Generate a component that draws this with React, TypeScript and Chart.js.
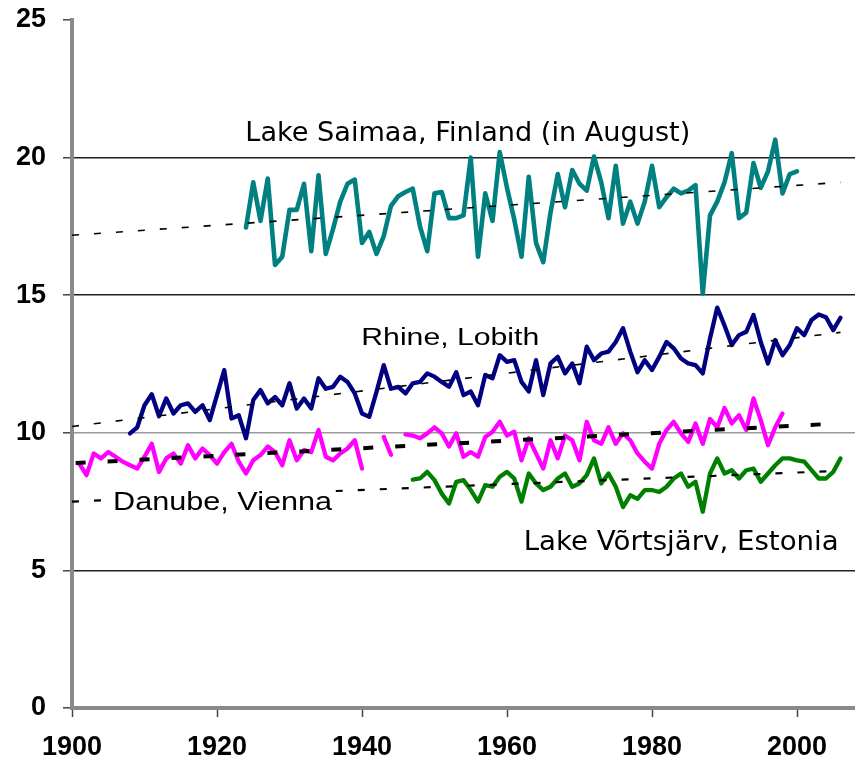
import React, { useEffect, useRef } from 'react';
import { Chart, registerables } from 'chart.js';

Chart.register(...registerables);

// ---------- data ----------
const saimaaStart = 1924;
const saimaaValues = [
  17.46, 19.1, 17.7, 19.24, 16.1, 16.4, 18.1, 18.1, 19.05, 16.6,
  19.36, 16.5, 17.4, 18.4, 19.05, 19.2, 16.9, 17.3, 16.5, 17.15,
  18.25, 18.6, 18.75, 18.87, 17.5, 16.6, 18.7, 18.75, 17.8, 17.8,
  17.9, 20.0, 16.4, 18.7, 17.7, 20.2, 18.9, 17.75, 16.4, 19.3,
  16.9, 16.2, 18.0, 19.4, 18.2, 19.55, 19.05, 18.8, 20.04, 19.1,
  17.8, 19.7, 17.6, 18.4, 17.6, 18.4, 19.7, 18.2, 18.56, 18.87,
  18.7, 18.8, 19.0, 15.06, 17.9, 18.4, 19.1, 20.16, 17.8, 18.0,
  19.8, 18.9, 19.5, 20.65, 18.7, 19.4, 19.5,
];

const rhineStart = 1908;
const rhineValues = [
  9.98, 10.2, 11.0, 11.4, 10.6, 11.25, 10.7, 11.0, 11.07, 10.76,
  11.0, 10.46, 11.37, 12.28, 10.52, 10.64, 9.8, 11.19, 11.55, 11.07,
  11.3, 11.0, 11.8, 10.88, 11.25, 10.88, 11.98, 11.6, 11.67, 12.04,
  11.85, 11.43, 10.7, 10.58, 11.49, 12.46, 11.6, 11.67, 11.43, 11.8,
  11.85, 12.16, 12.04, 11.85, 11.67, 12.2, 11.37, 11.5, 11.0, 12.1,
  11.98, 12.82, 12.58, 12.64, 11.85, 11.5, 12.64, 11.37, 12.52, 12.76,
  12.16, 12.52, 11.8, 13.13, 12.64, 12.88, 12.95, 13.3, 13.8, 12.95,
  12.2, 12.64, 12.28, 12.76, 13.3, 13.07, 12.7, 12.52, 12.46, 12.16,
  13.43, 14.55, 13.9, 13.19, 13.55, 13.67, 14.28, 13.3, 12.52, 13.37,
  12.82, 13.19, 13.8, 13.55, 14.1, 14.3, 14.2, 13.73, 14.18,
];

const danubeStart = 1901;
const danubeValues: (number | null)[] = [
  8.88, 8.46, 9.25, 9.07, 9.3, 9.13, 8.95, 8.82, 8.7, 9.13,
  9.6, 8.58, 9.07, 9.25, 8.88, 9.55, 9.07, 9.43, 9.19, 8.88,
  9.3, 9.6, 8.95, 8.52, 9.0, 9.19, 9.5, 9.3, 8.82, 9.73,
  9.0, 9.37, 9.3, 10.1, 9.13, 9.0, 9.25, 9.43, 9.73, 8.7,
  null, null, 9.85, 9.2, null,
  9.94, 9.9, 9.8, 9.98, 10.2, 9.98, 9.5, 9.98, 9.13, 9.3,
  9.13, 9.85, 10.04, 10.4, 9.9, 10.04, 9.0, 9.8, 9.25, 8.7,
  9.73, 9.07, 9.9, 9.73, 9.0, 10.4, 9.73, 9.6, 10.2, 9.6,
  9.98, 9.73, 9.25, 8.95, 8.7, 9.6, 10.1, 10.4, 9.98, 9.67,
  10.34, 9.6, 10.5, 10.2, 10.9, 10.34, 10.64, 10.1, 11.25, 10.46,
  9.55, 10.2, 10.7,
];

const vortsStart = 1947;
const vortsValues = [
  8.3, 8.34, 8.58, 8.28, 7.79, 7.43, 8.22, 8.28, 7.92, 7.5,
  8.1, 8.04, 8.4, 8.58, 8.34, 7.5, 8.52, 8.16, 7.92, 8.04,
  8.34, 8.52, 8.04, 8.16, 8.46, 9.07, 8.16, 8.52, 8.04, 7.3,
  7.73, 7.6, 7.92, 7.92, 7.85, 8.04, 8.34, 8.52, 8.04, 8.22,
  7.13, 8.52, 9.07, 8.52, 8.64, 8.34, 8.64, 8.7, 8.22, 8.52,
  8.82, 9.07, 9.07, 9.0, 8.95, 8.64, 8.34, 8.34, 8.58, 9.07,
];

// trend lines: [start year, end year], [start value, end value]
const saimaaTrendYears = [1900, 2006];
const saimaaTrendValues = [17.18, 19.1];
const rhineTrendYears = [1900, 2006];
const rhineTrendValues = [10.23, 13.65];
const danubeTrendYears = [1900.5, 2005];
const danubeTrendValues = [8.9, 10.33];
const vortsTrendYears = [1900, 2006];
const vortsTrendValues = [7.5, 8.62];

const xTickStep = 20;
const yTickStep = 5;

const labelTexts = [
  'Lake Saimaa, Finland (in August)',
  'Rhine, Lobith',
  'Danube, Vienna',
  'Lake Võrtsjärv, Estonia',
];

// label layout (anchor in data coords, sizes in px)
const labelLayout = [
  { year: 1923.9, value: 20.62, cap: 19, width: 445, font: 'DejaVu Sans', bg: false },
  { year: 1939.9, value: 13.2, cap: 17, width: 178, font: 'Liberation Sans', bg: false },
  { year: 1905.66, value: 7.2, cap: 18, width: 219, font: 'Liberation Sans', bg: true },
  { year: 1962.3, value: 5.75, cap: 19, width: 315, font: 'DejaVu Sans', bg: false },
];

const series = (start: number, vals: (number | null)[]) =>
  vals.map((v, i) => ({ x: start + i, y: v }));
const trend = (yrs: number[], vals: number[]) =>
  yrs.map((yr, i) => ({ x: yr, y: vals[i] }));

const labelPlugin = {
  id: 'textLabels',
  afterDatasetsDraw(chart: any) {
    const { ctx } = chart;
    const xs = chart.scales.x;
    const ys = chart.scales.y;
    labelLayout.forEach((l, i) => {
      const px = xs.getPixelForValue(l.year);
      const py = ys.getPixelForValue(l.value);
      const size = l.cap / 0.72;
      ctx.save();
      ctx.font = `${size}px "${l.font}"`;
      const w = ctx.measureText(labelTexts[i]).width;
      const sx = l.width / w;
      if (l.bg) {
        ctx.fillStyle = '#ffffff';
        ctx.fillRect(px - 3, py - l.cap - 3, l.width + 6, l.cap + 6);
      }
      ctx.translate(px, py);
      ctx.scale(sx, 1);
      ctx.fillStyle = '#000000';
      ctx.textBaseline = 'alphabetic';
      ctx.textAlign = 'left';
      ctx.fillText(labelTexts[i], 0, 0);
      ctx.restore();
    });
  },
};

export default function App() {
  const ref = useRef<HTMLCanvasElement | null>(null);

  useEffect(() => {
    if (!ref.current) return;
    const trendBase = {
      borderColor: '#000000',
      pointRadius: 0,
      fill: false,
      tension: 0,
    };
    const lineBase = {
      pointRadius: 0,
      fill: false,
      tension: 0,
      borderJoinStyle: 'round' as const,
      borderCapStyle: 'round' as const,
      spanGaps: false,
    };
    const chart = new Chart(ref.current, {
      type: 'line',
      data: {
        datasets: [
          { ...trendBase, label: 'Saimaa trend', data: trend(saimaaTrendYears, saimaaTrendValues), borderWidth: 1.6, borderDash: [7, 15] },
          { ...trendBase, label: 'Rhine trend', data: trend(rhineTrendYears, rhineTrendValues), borderWidth: 1.6, borderDash: [7, 15] },
          { ...trendBase, label: 'Danube trend', data: trend(danubeTrendYears, danubeTrendValues), borderWidth: 4, borderDash: [10, 22] },
          { ...trendBase, label: 'Vortsjarv trend', data: trend(vortsTrendYears, vortsTrendValues), borderWidth: 2.2, borderDash: [7, 15] },
          { ...lineBase, label: 'Lake Saimaa', data: series(saimaaStart, saimaaValues), borderColor: '#008080', borderWidth: 4.6 },
          { ...lineBase, label: 'Rhine', data: series(rhineStart, rhineValues), borderColor: '#000080', borderWidth: 4.3 },
          { ...lineBase, label: 'Danube', data: series(danubeStart, danubeValues), borderColor: '#ff00ff', borderWidth: 4.3 },
          { ...lineBase, label: 'Lake Vortsjarv', data: series(vortsStart, vortsValues), borderColor: '#008000', borderWidth: 4.3 },
        ],
      },
      options: {
        animation: false,
        responsive: true,
        maintainAspectRatio: false,
        parsing: false as any,
        layout: { padding: { top: 20, right: 0, left: 0, bottom: 0 } },
        plugins: {
          legend: { display: false },
          tooltip: { enabled: false },
        },
        scales: {
          x: {
            type: 'linear',
            min: 1900,
            max: 2008,
            ticks: {
              stepSize: xTickStep,
              includeBounds: false,
              autoSkip: false,
              maxRotation: 0,
              color: '#000',
              padding: 14,
              font: { family: 'Liberation Sans', weight: 'bold', size: 27 },
              callback: (v: any) => String(v),
            },
            grid: {
              drawOnChartArea: false,
              drawTicks: true,
              tickLength: 9,
              tickColor: '#444',
              tickWidth: 1.5,
            },
            border: { display: true, color: '#8a8a8a', width: 4 },
            afterFit: (s: any) => { s.height = 53; s.paddingLeft = 0; s.paddingRight = 0; },
          },
          y: {
            type: 'linear',
            min: 0,
            max: 25,
            ticks: {
              stepSize: yTickStep,
              color: '#000',
              padding: 17,
              font: { family: 'Liberation Sans', weight: 'bold', size: 27 },
            },
            grid: {
              color: (c: any) => {
                const v = c.tick ? c.tick.value : null;
                if (v === 0 || v === 25) return 'rgba(0,0,0,0)';
                if (v === 10) return '#9a9a9a';
                return '#1e1e1e';
              },
              lineWidth: 1.6,
              drawTicks: true,
              tickLength: 9,
              tickColor: '#444',
              tickWidth: 1.5,
            },
            border: { display: true, color: '#8a8a8a', width: 4 },
            afterFit: (s: any) => { s.width = 72; s.paddingTop = 0; s.paddingBottom = 0; },
          },
        },
      },
      plugins: [labelPlugin],
    });
    return () => chart.destroy();
  }, []);

  return (
    <div style={{ position: 'fixed', left: 0, top: 0, width: 855, height: 761, background: '#fff' }}>
      <canvas ref={ref} />
    </div>
  );
}
